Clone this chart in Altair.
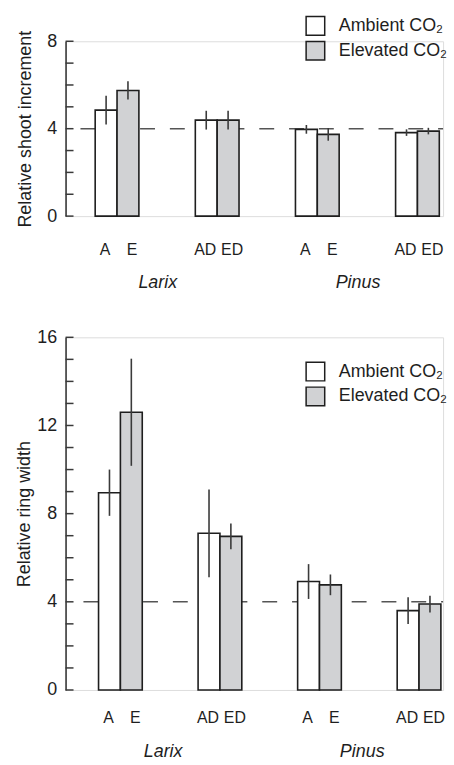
import altair as alt
import pandas as pd

# ---- data ----
groups = ["Larix A/E", "Larix AD/ED", "Pinus A/E", "Pinus AD/ED"]
treatments = ["Ambient CO₂", "Elevated CO₂"]
bar_group = ["Larix A/E", "Larix A/E", "Larix AD/ED", "Larix AD/ED",
             "Pinus A/E", "Pinus A/E", "Pinus AD/ED", "Pinus AD/ED"]
bar_treat = treatments * 4
bar_label = ["A", "E", "AD", "ED", "A", "E", "AD", "ED"]

shoot_mean = [4.85, 5.75, 4.39, 4.39, 3.97, 3.74, 3.82, 3.89]
shoot_err = [0.66, 0.42, 0.43, 0.43, 0.20, 0.29, 0.15, 0.15]

ring_mean = [8.95, 12.6, 7.11, 6.97, 4.92, 4.77, 3.60, 3.90]
ring_err = [1.05, 2.43, 1.99, 0.58, 0.79, 0.47, 0.61, 0.38]

genus_names = ["Larix", "Pinus"]
genus_anchor = ["Larix A/E", "Pinus A/E"]

shoot_ticks = [0, 1, 2, 3, 4, 5, 6, 7, 8]
shoot_labels = [0, 4, 8]
ring_ticks = [0, 1, 2, 3, 4, 5, 6, 7, 8, 9, 10, 11, 12, 13, 14, 15, 16]
ring_labels = [0, 4, 8, 12, 16]
reference_level = [4]

FONT = "Liberation Sans"
INK = "#1e1e1e"
AXC = "#3a3a3a"
W = 380


def panel(mean, err, ticks, labels, ymax, height, title, tpad,
          pin, pout, palign, legend_y, lab_off, gen_off, gen_dx, dash_x):
    bars = pd.DataFrame({
        "group": bar_group, "treatment": bar_treat, "label": bar_label,
        "mean": mean,
        "lo": [m - e for m, e in zip(mean, err)],
        "hi": [m + e for m, e in zip(mean, err)],
    })
    genus = pd.DataFrame({"genus": genus_names, "anchor": genus_anchor})
    tickdf = pd.DataFrame({"tick": ticks})
    refdf = pd.DataFrame({"level": reference_level})

    xs = alt.Scale(domain=groups, paddingInner=pin, paddingOuter=pout, align=palign)
    xo = alt.Scale(domain=treatments, paddingInner=0, paddingOuter=0)
    ys = alt.Scale(domain=[0, ymax], nice=False, zero=True)
    yax = alt.Axis(
        values=labels, title=title, ticks=False, tickSize=0, grid=False,
        domainColor=AXC, domainWidth=1.6, labelFont=FONT, labelFontSize=18,
        labelColor=INK, labelPadding=9, titleFont=FONT, titleFontSize=18,
        titleFontWeight="normal", titleColor=INK, titlePadding=tpad)

    ref = alt.Chart(refdf).mark_rule(color="#555555", strokeWidth=1.6,
                                     strokeDash=[15, 15]).encode(
        y=alt.Y("level:Q", scale=ys, axis=yax, title=title),
        x=alt.value(dash_x), x2=alt.value(W))

    bar = alt.Chart(bars).mark_bar(stroke=INK, strokeWidth=1.6).encode(
        x=alt.X("group:N", scale=xs, axis=None),
        xOffset=alt.XOffset("treatment:N", scale=xo),
        y=alt.Y("mean:Q", scale=ys, axis=yax, title=title),
        fill=alt.Fill("treatment:N", scale=alt.Scale(
            domain=treatments, range=["#ffffff", "#d1d2d4"]),
            legend=alt.Legend(
                title=None, orient="none", legendX=241, legendY=legend_y,
                symbolType="square", symbolSize=350, symbolStrokeColor=INK,
                symbolStrokeWidth=1.5, symbolOpacity=1, labelFont=FONT,
                labelFontSize=18, labelColor=INK, labelOffset=13,
                rowPadding=0, padding=0, labelLimit=300)),
    )

    errb = alt.Chart(bars).mark_rule(color=AXC, strokeWidth=1.6).encode(
        x=alt.X("group:N", scale=xs, axis=None),
        xOffset=alt.XOffset("treatment:N", scale=xo),
        y=alt.Y("lo:Q", scale=ys, axis=yax, title=title), y2="hi:Q")

    tk = alt.Chart(tickdf).mark_rule(color=AXC, strokeWidth=1.5).encode(
        y=alt.Y("tick:Q", scale=ys, axis=yax, title=title),
        x=alt.value(0), x2=alt.value(8))

    def lab_layer(treat, dx):
        return alt.Chart(bars).transform_filter(
            alt.datum.treatment == treat
        ).mark_text(font=FONT, fontSize=16, color=INK, baseline="middle",
                    dx=dx).encode(
            x=alt.X("group:N", scale=xs, axis=None),
            xOffset=alt.XOffset("treatment:N", scale=xo),
            y=alt.value(height + lab_off), text="label:N")

    gen = alt.Chart(genus).mark_text(font=FONT, fontSize=18, fontStyle="italic",
                                     color=INK, baseline="middle", dx=gen_dx).encode(
        x=alt.X("anchor:N", scale=xs, axis=None),
        y=alt.value(height + gen_off), text="genus:N")

    return alt.layer(ref, bar, errb, tk, lab_layer(treatments[0], -1),
                     lab_layer(treatments[1], 4), gen).properties(
        width=W, height=height)


top = panel(shoot_mean, shoot_err, shoot_ticks, shoot_labels, 8, 176,
            "Relative shoot increment", 12, 0.5635, 0.1667, 0.887,
            -26, 34, 67, 41, 15)
bottom = panel(ring_mean, ring_err, ring_ticks, ring_labels, 16, 355,
               "Relative ring width", 3, 0.5609, 0.1766, 0.938,
               24, 28, 62, 43, 18)

chart = alt.vconcat(top, bottom, spacing=122, bounds="flush").resolve_scale(
    x="independent", y="independent", fill="independent", xOffset="independent"
).resolve_legend(fill="independent").properties(
    padding={"left": 15, "top": 12, "right": 5, "bottom": 5}
).configure_view(strokeWidth=0, stroke="transparent").configure(font=FONT)

chart.save("out.html", embed_options={"renderer": "svg", "actions": False})
